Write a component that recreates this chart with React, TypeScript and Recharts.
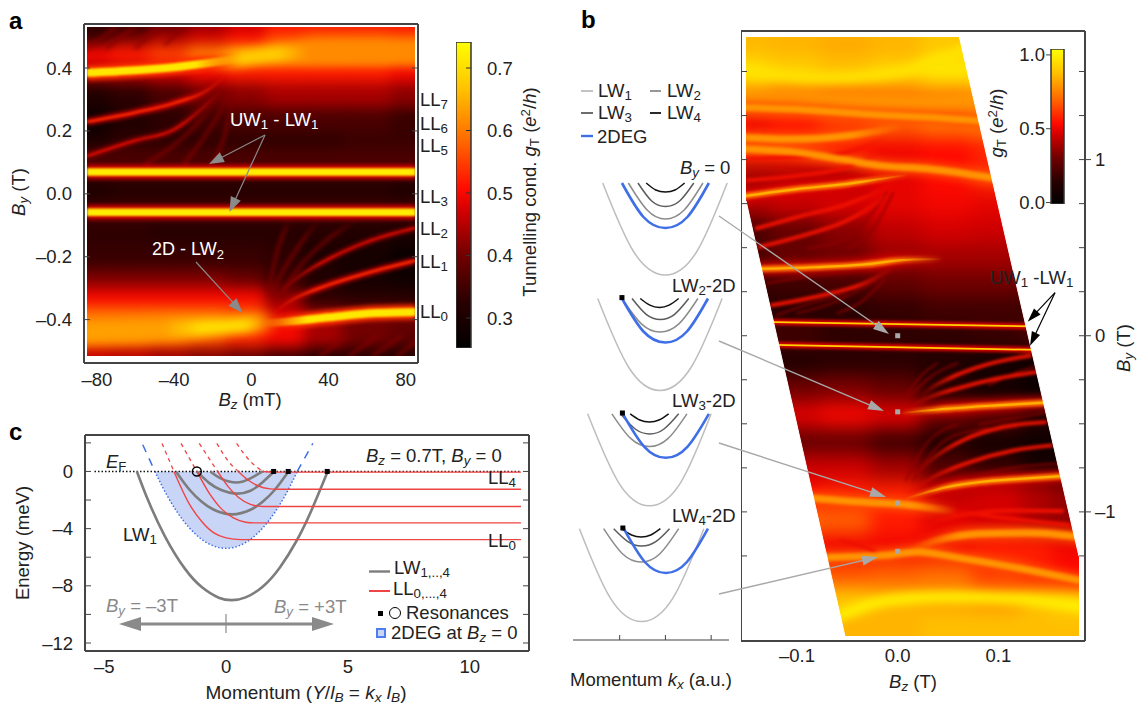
import React from 'react';
import { ComposedChart, XAxis, YAxis, Line, Area, Bar, Scatter } from 'recharts';

const FONT = '"Liberation Sans", Arial, sans-serif';
const INK = '#222';
const FRAME = '#444';

const p = (rows: number[][]) => rows.map(([x, y]) => ({ x, y }));

// ---- panel a: map, Bz in mT, By in T ----
const aCols = [-85, -60, -40, -20, 0, 20, 40, 60, 85];
const aRows = [0.55, 0.47, 0.42, 0.36, 0.3, 0.22, 0.14, 0.09, 0, -0.09, -0.14, -0.22, -0.3, -0.36, -0.42, -0.47, -0.55];
const aGrid = [
  [0.33, 0.33, 0.37, 0.42, 0.46, 0.5, 0.5, 0.5, 0.5],
  [0.34, 0.4, 0.44, 0.47, 0.5, 0.55, 0.57, 0.57, 0.56],
  [0.5, 0.52, 0.55, 0.6, 0.63, 0.63, 0.63, 0.63, 0.61],
  [0.44, 0.45, 0.47, 0.5, 0.52, 0.52, 0.52, 0.52, 0.5],
  [0.31, 0.33, 0.36, 0.4, 0.42, 0.44, 0.44, 0.44, 0.42],
  [0.28, 0.31, 0.33, 0.35, 0.36, 0.36, 0.36, 0.36, 0.34],
  [0.3, 0.33, 0.33, 0.33, 0.33, 0.33, 0.33, 0.34, 0.34],
  [0.36, 0.36, 0.36, 0.36, 0.36, 0.36, 0.36, 0.36, 0.36],
  [0.31, 0.32, 0.32, 0.32, 0.32, 0.32, 0.32, 0.32, 0.31],
  [0.36, 0.36, 0.36, 0.36, 0.36, 0.36, 0.36, 0.36, 0.36],
  [0.33, 0.33, 0.32, 0.32, 0.32, 0.32, 0.32, 0.31, 0.3],
  [0.34, 0.34, 0.34, 0.34, 0.34, 0.33, 0.3, 0.29, 0.27],
  [0.41, 0.41, 0.41, 0.41, 0.39, 0.34, 0.31, 0.29, 0.28],
  [0.5, 0.5, 0.5, 0.5, 0.5, 0.42, 0.33, 0.32, 0.32],
  [0.6, 0.6, 0.6, 0.6, 0.58, 0.48, 0.42, 0.4, 0.4],
  [0.58, 0.58, 0.57, 0.56, 0.53, 0.5, 0.44, 0.4, 0.38],
  [0.46, 0.45, 0.43, 0.41, 0.39, 0.35, 0.32, 0.32, 0.31],
];
const aTop = p([[-85, 0.382], [-60, 0.39], [-40, 0.4], [-20, 0.415], [-5, 0.428]]);
const aTopBlob = p([[-22, 0.414], [-5, 0.428], [10, 0.44], [30, 0.447]]);
const aBroadTop = p([[5, 0.44], [25, 0.447], [50, 0.45], [90, 0.45]]);
const aBandUp = p([[-85, 0.064], [85, 0.064]]);
const aBandDown = p([[-85, -0.065], [85, -0.065]]);
const aBottom = p([[5, -0.422], [20, -0.415], [40, -0.402], [60, -0.39], [85, -0.385]]);
const aBottomBlob = p([[-45, -0.44], [-30, -0.437], [-15, -0.432], [0, -0.425], [15, -0.418]]);
const aBroadBottom = p([[-90, -0.45], [-60, -0.445], [-40, -0.44], [-15, -0.432]]);
const aUpper1 = p([[-85, 0.225], [-60, 0.255], [-40, 0.285], [-20, 0.338], [-12, 0.385]]);
const aUpper2 = p([[-85, 0.115], [-60, 0.165], [-40, 0.2], [-25, 0.27], [-15, 0.33]]);
const aLower1 = p([[10, -0.395], [20, -0.35], [40, -0.298], [60, -0.26], [85, -0.22]]);
const aLower2 = p([[15, -0.32], [25, -0.27], [40, -0.215], [60, -0.16], [85, -0.115]]);
const aFaint = [
  p([[-55, 0.09], [-40, 0.15], [-25, 0.24], [-15, 0.33]]),
  p([[-35, 0.09], [-25, 0.17], [-15, 0.27], [-10, 0.34]]),
  p([[-20, 0.09], [-13, 0.2], [-9, 0.32]]),
  p([[-85, 0.46], [-70, 0.53]]),
  p([[-75, 0.46], [-60, 0.53]]),
  p([[-60, 0.46], [-48, 0.53]]),
  p([[-45, 0.47], [-35, 0.53]]),
  p([[55, -0.09], [40, -0.15], [25, -0.24], [15, -0.33]]),
  p([[35, -0.09], [25, -0.17], [15, -0.27], [10, -0.34]]),
  p([[20, -0.09], [13, -0.2], [9, -0.32]]),
  p([[35, -0.53], [50, -0.46]]),
  p([[50, -0.53], [65, -0.46]]),
  p([[62, -0.53], [78, -0.46]]),
  p([[75, -0.53], [85, -0.48]]),
];
const aXTicks = [-80, -60, -40, -20, 0, 20, 40, 60, 80];
const aXLabels = [-80, -40, 0, 40, 80];
const aYTicks = [-0.4, -0.2, 0, 0.2, 0.4];
const aBarTicks = [0.3, 0.4, 0.5, 0.6, 0.7];

// ---- panel b: map, Bz in T, By in T ----
const bCols = [-0.15, -0.1, -0.05, 0, 0.05, 0.1, 0.15, 0.18];
const bRows = [1.8, 1.65, 1.5, 1.35, 1.2, 1.05, 0.9, 0.75, 0.6, 0.45, 0.3, 0.15, 0, -0.15, -0.3, -0.45, -0.6, -0.75, -0.9, -1.05, -1.2, -1.35, -1.5, -1.65, -1.8];
const bGrid = [
  [0.83, 0.83, 0.83, 0.84, 0.86, 0.88, 0.88, 0.88],
  [0.83, 0.82, 0.8, 0.82, 0.86, 0.9, 0.9, 0.9],
  [0.92, 0.88, 0.85, 0.88, 0.95, 0.95, 0.9, 0.9],
  [0.76, 0.72, 0.7, 0.7, 0.72, 0.76, 0.78, 0.78],
  [0.5, 0.54, 0.6, 0.66, 0.7, 0.72, 0.7, 0.7],
  [0.58, 0.56, 0.54, 0.5, 0.52, 0.56, 0.56, 0.56],
  [0.38, 0.4, 0.4, 0.48, 0.52, 0.58, 0.55, 0.55],
  [0.4, 0.44, 0.46, 0.48, 0.5, 0.48, 0.46, 0.46],
  [0.22, 0.28, 0.34, 0.42, 0.45, 0.44, 0.4, 0.4],
  [0.22, 0.28, 0.3, 0.36, 0.38, 0.38, 0.36, 0.36],
  [0.18, 0.2, 0.22, 0.27, 0.3, 0.3, 0.28, 0.28],
  [0.14, 0.14, 0.15, 0.17, 0.2, 0.2, 0.18, 0.18],
  [0.22, 0.2, 0.16, 0.16, 0.16, 0.18, 0.22, 0.22],
  [0.12, 0.12, 0.15, 0.15, 0.12, 0.08, 0.05, 0.05],
  [0.3, 0.3, 0.32, 0.28, 0.14, 0.08, 0.04, 0.04],
  [0.42, 0.46, 0.5, 0.46, 0.3, 0.26, 0.15, 0.15],
  [0.3, 0.28, 0.28, 0.2, 0.12, 0.08, 0.05, 0.05],
  [0.42, 0.44, 0.44, 0.38, 0.24, 0.18, 0.08, 0.08],
  [0.5, 0.52, 0.56, 0.56, 0.42, 0.45, 0.4, 0.35],
  [0.62, 0.68, 0.66, 0.55, 0.48, 0.45, 0.38, 0.35],
  [0.5, 0.5, 0.5, 0.5, 0.5, 0.55, 0.55, 0.5],
  [0.78, 0.7, 0.64, 0.66, 0.68, 0.6, 0.55, 0.52],
  [0.88, 0.86, 0.86, 0.82, 0.8, 0.78, 0.84, 0.88],
  [0.9, 0.84, 0.82, 0.82, 0.84, 0.84, 0.84, 0.84],
  [0.9, 0.84, 0.82, 0.82, 0.84, 0.84, 0.84, 0.84],
];
const bBandUp = p([[-0.16, 0.085], [0.14, 0.057]]);
const bBandDown = p([[-0.16, -0.043], [0.14, -0.076]]);
const bBrightUp = [
  p([[-0.16, 0.79], [-0.1, 0.837], [-0.05, 0.866], [-0.017, 0.894], [0.012, 0.918]]),
  p([[-0.14, 0.384], [-0.083, 0.393], [-0.034, 0.408], [0.009, 0.435], [0.045, 0.44]]),
];
const bBrightDown = [
  p([[0.002, -0.435], [0.049, -0.41], [0.098, -0.391], [0.15, -0.374]]),
  p([[0.006, -0.925], [0.049, -0.855], [0.082, -0.826], [0.124, -0.807], [0.17, -0.79]]),
];
const bBroad = [
  p([[-0.16, 1.13], [-0.1, 1.121], [-0.05, 1.14], [0.005, 1.19]]),
  p([[-0.16, 1.3], [-0.1, 1.29], [-0.034, 1.263], [0.032, 1.244], [0.09, 1.22]]),
  p([[-0.16, 1.066], [-0.1, 1.045], [-0.057, 1.008], [-0.017, 0.97], [0.032, 0.951], [0.1, 0.895]]),
  p([[-0.09, -0.915], [-0.034, -0.94], [0.006, -0.953], [0.06, -0.995]]),
  p([[0.01, -1.215], [0.039, -1.157], [0.082, -1.119], [0.131, -1.115], [0.185, -1.14]]),
  p([[-0.075, -1.255], [-0.011, -1.242], [0.019, -1.223], [0.065, -1.261], [0.131, -1.327], [0.185, -1.39]]),
];
const bTopYellow = p([[-0.16, 1.51], [-0.067, 1.47], [0.009, 1.51], [0.045, 1.58], [0.07, 1.63]]);
const bTopOrange = p([[-0.16, 1.36], [-0.05, 1.34], [0.03, 1.33], [0.08, 1.35]]);
const bYellow = p([[-0.06, -1.59], [-0.008, -1.497], [0.049, -1.478], [0.115, -1.488], [0.19, -1.54]]);
const bRedUp = [
  p([[-0.141, 0.611], [-0.1, 0.677], [-0.05, 0.752], [-0.017, 0.828], [0.002, 0.885]]),
  p([[-0.138, 0.507], [-0.1, 0.563], [-0.05, 0.658], [-0.017, 0.771], [0.002, 0.866]]),
  p([[-0.126, 0.176], [-0.083, 0.223], [-0.034, 0.299], [-0.004, 0.384]]),
  p([[-0.15, 1.008], [-0.1, 1.017], [-0.05, 1.045], [-0.008, 1.14]]),
  p([[-0.15, 0.885], [-0.1, 0.913], [-0.05, 0.96], [-0.011, 1.064]]),
  p([[-0.057, -1.157], [-0.024, -1.214], [-0.011, -1.252]]),
];
const bRedDown = [
  p([[0.014, -0.391], [0.032, -0.344], [0.058, -0.297], [0.098, -0.24], [0.139, -0.202]]),
  p([[0.022, -0.344], [0.035, -0.287], [0.058, -0.221], [0.091, -0.155], [0.133, -0.108]]),
  p([[0.014, -0.873], [0.039, -0.788], [0.072, -0.713], [0.115, -0.647], [0.154, -0.618]]),
  p([[0.019, -0.779], [0.035, -0.694], [0.065, -0.589], [0.105, -0.514], [0.148, -0.486]]),
  p([[0.049, -0.987], [0.098, -1.025], [0.171, -1.072]]),
  p([[0.016, -1.138], [0.032, -1.072], [0.072, -1.006], [0.115, -0.987], [0.165, -0.99]]),
];
const bFaint = [
  p([[-0.1, 0.13], [-0.06, 0.2], [-0.02, 0.32]]),
  p([[-0.06, 0.13], [-0.035, 0.2], [-0.012, 0.33]]),
  p([[-0.09, 0.5], [-0.05, 0.56], [-0.01, 0.82]]),
  p([[-0.05, 0.5], [-0.025, 0.6], [-0.004, 0.82]]),
  p([[-0.12, 0.12], [-0.09, 0.18], [-0.05, 0.24]]),
  p([[-0.13, 0.3], [-0.09, 0.34], [-0.05, 0.37]]),
  p([[0.06, -0.15], [0.035, -0.22], [0.012, -0.34]]),
  p([[0.04, -0.15], [0.024, -0.22], [0.008, -0.34]]),
  p([[0.09, -0.52], [0.05, -0.58], [0.015, -0.82]]),
  p([[0.06, -0.5], [0.03, -0.6], [0.008, -0.82]]),
  p([[0.15, -0.15], [0.12, -0.2], [0.09, -0.28]]),
  p([[0.16, -0.42], [0.12, -0.46], [0.08, -0.5]]),
  p([[0.16, -0.72], [0.12, -0.74], [0.07, -0.8]]),
];
const bLeftEdge = [
  { x: -0.15, left: [-1.7, 0.77] },
  { x: -0.052, left: [-1.7, -1.7] },
];
const bRightEdge = [
  { x: 0.0615, right: [1.7, 1.7] },
  { x: 0.18, right: [-1.248, 1.7] },
];
const bMarkers = p([[0, 0], [0, -0.432], [0, -0.95], [0, -1.224]]);
const bXTicks = [-0.15, -0.1, -0.05, 0, 0.05, 0.1, 0.15];
const bXLabels = [-0.1, 0, 0.1];
const bYTicks = [-1.25, -1, -0.75, -0.5, -0.25, 0, 0.25, 0.5, 0.75, 1, 1.25, 1.5];
const bYLabels = [-1, 0, 1];
const bBarTicks = [0, 0.5, 1];

// ---- panel b: band sketches, momentum against energy (sketch units) ----
const s1Lw1 = p([[-1.37, 183], [-0.69, 252], [0, 275], [0.68, 252], [1.35, 183]]);
const s1Lw2 = p([[-0.81, 183], [-0.4, 210], [0, 219], [0.41, 210], [0.82, 183]]);
const s1Lw3 = p([[-0.6, 183], [-0.3, 201], [0, 206.5], [0.31, 201], [0.62, 183]]);
const s1Lw4 = p([[-0.42, 183], [-0.21, 190], [0, 192], [0.21, 190], [0.42, 183]]);
const s1Deg = p([[-0.95, 183], [-0.48, 217], [0, 228], [0.48, 217], [0.95, 183]]);
const s2Lw1 = p([[-1.48, 298.5], [-0.8, 367.5], [-0.12, 390.5], [0.56, 367.5], [1.24, 298.5]]);
const s2Lw2 = p([[-0.95, 298.5], [-0.53, 323.6], [-0.12, 332], [0.3, 323.6], [0.71, 298.5]]);
const s2Lw3 = p([[-0.73, 298.5], [-0.42, 314.3], [-0.11, 319.6], [0.2, 314.3], [0.51, 298.5]]);
const s2Lw4 = p([[-0.55, 298.5], [-0.34, 305.2], [-0.13, 307.5], [0.08, 305.2], [0.29, 298.5]]);
const s2Deg = p([[-0.95, 298.5], [-0.48, 331.5], [0, 342.5], [0.47, 331.5], [0.93, 298.5]]);
const s3Lw1 = p([[-1.7, 413.8], [-1.02, 482.8], [-0.35, 505.8], [0.33, 482.8], [1, 413.8]]);
const s3Lw2 = p([[-1.17, 413.8], [-0.76, 438.4], [-0.35, 446.6], [0.06, 438.4], [0.47, 413.8]]);
const s3Lw3 = p([[-0.98, 413.8], [-0.66, 429], [-0.34, 434], [-0.03, 429], [0.29, 413.8]]);
const s3Lw4 = p([[-0.77, 413.8], [-0.56, 420], [-0.35, 422], [-0.14, 420], [0.07, 413.8]]);
const s3Deg = p([[-0.93, 413.8], [-0.46, 446.8], [0.01, 457.8], [0.48, 446.8], [0.95, 413.8]]);
const s4Lw1 = p([[-1.88, 528.7], [-1.2, 598.4], [-0.52, 621.6], [0.16, 598.4], [0.84, 528.7]]);
const s4Lw2 = p([[-1.35, 528.7], [-0.94, 553.7], [-0.53, 562], [-0.12, 553.7], [0.29, 528.7]]);
const s4Lw3 = p([[-1.13, 528.7], [-0.82, 541.6], [-0.52, 546], [-0.21, 541.6], [0.09, 528.7]]);
const s4Lw4 = p([[-0.96, 528.7], [-0.74, 535], [-0.53, 537], [-0.32, 535], [-0.11, 528.7]]);
const s4Deg = p([[-0.91, 528.7], [-0.45, 562], [0.01, 573], [0.47, 562], [0.93, 528.7]]);
const sMarkers = p([[-0.95, 297.6], [-0.94, 413], [-0.93, 528]]);
const sTicks = [-1, 0, 1];

// ---- panel c: momentum, energy in meV ----
const cLw1 = p([[-3.66, 0], [-3.2, -2.02], [-2.5, -4.57], [-1.7, -6.78], [-1, -8.09], [-0.3, -8.83], [0.24, -9], [0.8, -8.81], [1.5, -8.06], [2.2, -6.73], [2.9, -4.83], [3.5, -2.73], [4.17, 0]]);
const cLw2 = p([[-2.06, 0], [-1.5, -1.28], [-1, -2.12], [-0.5, -2.68], [0.25, -3], [1, -2.68], [1.5, -2.12], [2, -1.28], [2.56, 0]]);
const cLw3 = p([[-1.2, 0], [-0.7, -0.8], [-0.2, -1.3], [0.4, -1.55], [1, -1.35], [1.5, -0.75], [1.97, 0]]);
const cLw4 = p([[-0.65, 0], [-0.2, -0.5], [0.43, -0.77], [1, -0.48], [1.5, 0]]);
const cLl0 = p([[-2.14, 0], [-1.5, -2.3], [-1, -3.5], [-0.5, -4.3], [0, -4.65], [0.6, -4.77], [12.1, -4.77]]);
const cLl1 = p([[-1.2, 0], [-0.7, -1.5], [-0.2, -2.6], [0.3, -3.25], [0.8, -3.55], [1.15, -3.6], [12.1, -3.6]]);
const cLl2 = p([[-0.35, 0], [0.1, -1.1], [0.5, -1.8], [1, -2.3], [1.5, -2.45], [12.1, -2.45]]);
const cLl3 = p([[0.5, 0], [0.9, -0.6], [1.3, -1], [1.8, -1.22], [2.1, -1.25], [12.1, -1.25]]);
const cLl4 = p([[1.5, 0], [2, -0.05], [12.1, -0.05]]);
const cDash0 = p([[-2.63, 1.96], [-2.14, 0]]);
const cDash1 = p([[-1.85, 1.96], [-1.2, 0]]);
const cDash2 = p([[-1.1, 1.96], [-0.35, 0]]);
const cDash3 = p([[-0.38, 1.96], [0.1, 0.7], [0.5, 0]]);
const cDash4 = p([[0.43, 1.96], [1, 0.7], [1.5, 0]]);
const cDeg = p([[-2.92, 0], [-2.5, -1.44], [-2, -2.86], [-1.5, -3.96], [-1, -4.75], [-0.5, -5.22], [0, -5.38], [0.5, -5.22], [1, -4.75], [1.5, -3.96], [2, -2.86], [2.5, -1.44], [2.92, 0]]);
const cDegLeft = p([[-3.42, 1.87], [-2.92, 0]]);
const cDegRight = p([[2.92, 0], [3.56, 1.96]]);
const cFermi = p([[-5.4, 0], [12.1, 0]]);
const cSquares = p([[1.95, 0], [2.55, 0], [4.15, 0]]);
const cCircle = p([[-1.2, 0]]);
const cXTicks = [-5, 0, 5, 10];
const cYTicks = [-12, -10, -8, -6, -4, -2, 0, 2];
const cYLabels = [-12, -8, -4, 0];

// ---- annotations, in page pixels ----
const noteUw1 = p([[265, 135], [209, 164]]);
const noteUw2 = p([[265, 135], [229.5, 212]]);
const note2d = p([[196, 262], [242.6, 313]]);
const noteB1 = p([[719, 216], [889, 334]]);
const noteB2 = p([[719, 341], [884, 411]]);
const noteB3 = p([[719, 443], [886, 497]]);
const noteB4 = p([[719, 594], [878, 557]]);
const noteLwA = p([[1055, 292.7], [1027.7, 321.7]]);
const noteLwB = p([[1055, 292.7], [1030, 345.7]]);
const noteByLeft = p([[226, 624], [119, 624]]);
const noteByRight = p([[226, 624], [334, 624]]);
const noteByTick = p([[226, 614], [226, 633]]);
const keyLw = p([[369, 571.5], [390, 571.5]]);
const keyLl = p([[369, 591], [390, 591]]);
const keyS1 = p([[581, 91], [593, 91]]);
const keyS2 = p([[650, 91], [661, 91]]);
const keyS3 = p([[581, 113], [593, 113]]);
const keyS4 = p([[650, 113], [661, 113]]);
const keyS5 = p([[581, 136], [593, 136]]);

const CMAP: [number, number[]][] = [
  [0, [0, 0, 0]],
  [0.15, [42, 0, 0]],
  [0.3, [112, 0, 0]],
  [0.45, [212, 0, 0]],
  [0.52, [255, 10, 0]],
  [0.68, [255, 106, 0]],
  [0.85, [255, 196, 0]],
  [1, [255, 255, 0]],
];
const heat = (t: number) => {
  const v = Math.max(0, Math.min(1, t));
  for (let i = 1; i < CMAP.length; i++) {
    if (v <= CMAP[i][0]) {
      const f = (v - CMAP[i - 1][0]) / (CMAP[i][0] - CMAP[i - 1][0]);
      const c = CMAP[i - 1][1].map((a, k) => Math.round(a + (CMAP[i][1][k] - a) * f));
      return `rgb(${c.join(',')})`;
    }
  }
  return 'rgb(255,255,0)';
};
const aHeat = (g: number) => (g - 0.252) / (0.7416 - 0.252);
const aBox = { x: 86.5, y: 27, w: 328.5, h: 329 };
const aXd: [number, number] = [-85, 85];
const aYd: [number, number] = [-0.526, 0.529];
const bBox = { x: 746, y: 37, w: 333, h: 599 };
const bXd: [number, number] = [-0.15, 0.18];
const bYd: [number, number] = [-1.7, 1.7];

const cellsOf = (cols: number[], rows: number[], grid: number[][]) =>
  rows.flatMap((y, r) => cols.map((x, c) => ({ x, y, g: grid[r][c] })));

const Sub = ({ children }: any) => (
  <span style={{ fontSize: '0.72em', verticalAlign: '-0.28em', lineHeight: 0 }}>{children}</span>
);
const Sup = ({ children }: any) => (
  <span style={{ fontSize: '0.72em', verticalAlign: '0.42em', lineHeight: 0 }}>{children}</span>
);

const Note = ({ x, y, size = 18.5, color = INK, weight, rotate, center, children }: any) => (
  <div
    style={{
      position: 'absolute',
      left: x,
      top: y,
      fontFamily: FONT,
      fontSize: size,
      color,
      fontWeight: weight,
      whiteSpace: 'nowrap',
      lineHeight: 1,
      transform: `translate(${center || rotate ? '-50%' : '0'},-50%)${rotate ? ` rotate(${rotate}deg)` : ''}`,
    }}
  >
    {children}
  </div>
);

// one blurred layer of a map, cut to the map box
const HeatLayer = ({ box, xd, yd, blur, children }: any) => {
  const pad = 30;
  const ux = (xd[1] - xd[0]) / box.w;
  const uy = (yd[1] - yd[0]) / box.h;
  return (
    <div style={{ position: 'absolute', left: box.x, top: box.y, width: box.w, height: box.h, overflow: 'hidden' }}>
      <div style={{ position: 'absolute', left: -pad, top: -pad, filter: `blur(${blur}px)` }}>
        <ComposedChart width={box.w + 2 * pad} height={box.h + 2 * pad} margin={{ top: 0, right: 0, bottom: 0, left: 0 }}>
          <XAxis hide type="number" dataKey="x" allowDataOverflow domain={[xd[0] - pad * ux, xd[1] + pad * ux]} />
          <YAxis hide type="number" dataKey="y" allowDataOverflow domain={[yd[0] - pad * uy, yd[1] + pad * uy]} />
          {children}
        </ComposedChart>
      </div>
    </div>
  );
};

// fade: which ends of the ridge die away, 'l', 'r' or 'lr'
const ridge = (data: any[], width: number, color: string, key: string, fade = '') => {
  const id = 'fade-' + key;
  const line = (
    <Line
      key={key}
      data={data}
      dataKey="y"
      type="monotone"
      stroke={fade ? `url(#${id})` : color}
      strokeWidth={width}
      dot={false}
      legendType="none"
      isAnimationActive={false}
    />
  );
  if (!fade) return line;
  return [
    <defs key={id}>
      <linearGradient id={id} x1="0" y1="0" x2="1" y2="0">
        <stop offset={0} stopColor={color} stopOpacity={fade.includes('l') ? 0 : 1} />
        <stop offset={0.3} stopColor={color} stopOpacity={1} />
        <stop offset={0.7} stopColor={color} stopOpacity={1} />
        <stop offset={1} stopColor={color} stopOpacity={fade.includes('r') ? 0 : 1} />
      </linearGradient>
    </defs>,
    line,
  ];
};

const heatCells = (data: any[], w: number, h: number, tone: (g: number) => number) => (
  <Scatter
    data={data}
    dataKey="y"
    isAnimationActive={false}
    shape={(s: any) => <rect x={s.cx - w / 2} y={s.cy - h / 2} width={w} height={h} fill={heat(tone(s.payload.g))} />}
  />
);

const blank = () => '';
const dashNum = (v: number, digits: number) => (v < 0 ? '–' : '') + Math.abs(v).toFixed(digits);
const tickStyle = { fill: INK, fontSize: 18.5, fontFamily: FONT };

// frame lines and inward ticks on all four sides; these axes carry no labels
const frameAxes = (xd: number[], yd: number[], xt: number[], yt: number[]) => [
  <XAxis key="fb" xAxisId="fb" mirror type="number" orientation="bottom" domain={xd} allowDataOverflow ticks={xt} interval={0} tickFormatter={blank} tickSize={6} stroke={FRAME} axisLine={{ stroke: FRAME, strokeWidth: 2 }} />,
  <XAxis key="ft" xAxisId="ft" mirror type="number" orientation="top" domain={xd} allowDataOverflow ticks={xt} interval={0} tickFormatter={blank} tickSize={6} stroke={FRAME} axisLine={{ stroke: FRAME, strokeWidth: 2 }} />,
  <YAxis key="fl" yAxisId="fl" mirror type="number" orientation="left" domain={yd} allowDataOverflow ticks={yt} interval={0} tickFormatter={blank} tickSize={6} stroke={FRAME} axisLine={{ stroke: FRAME, strokeWidth: 2 }} />,
  <YAxis key="fr" yAxisId="fr" mirror type="number" orientation="right" domain={yd} allowDataOverflow ticks={yt} interval={0} tickFormatter={blank} tickSize={6} stroke={FRAME} axisLine={{ stroke: FRAME, strokeWidth: 2 }} />,
];

const gradientStops = CMAP.map(([t, c]) => <stop key={t} offset={t} stopColor={`rgb(${c.join(',')})`} />);

// shaft drawn as a line that stops at the head, head drawn as one scatter point
const arrow = (data: any[], key: string, color: string, width: number, headLen = 0, headWid = 0) => {
  const a = data[0];
  const b = data[data.length - 1];
  const len = Math.hypot(b.x - a.x, b.y - a.y) || 1;
  const ux = (b.x - a.x) / len;
  const uy = (b.y - a.y) / len;
  const shaft = headLen > 0 ? [a, { x: b.x - ux * (headLen - 2), y: b.y - uy * (headLen - 2) }] : data;
  const line = (
    <Line
      key={key}
      data={shaft}
      dataKey="y"
      type="linear"
      stroke={color}
      strokeWidth={width}
      dot={false}
      legendType="none"
      isAnimationActive={false}
    />
  );
  if (headLen <= 0) return line;
  return [
    line,
    <Scatter
      key={key + 'h'}
      data={[b]}
      dataKey="y"
      isAnimationActive={false}
      shape={(d: any) => (
        <polygon
          fill={color}
          points={`${d.cx},${d.cy} ${d.cx - ux * headLen - uy * headWid},${d.cy - uy * headLen + ux * headWid} ${d.cx - ux * headLen + uy * headWid},${d.cy - uy * headLen - ux * headWid}`}
        />
      )}
    />,
  ];
};

const curve = (data: any[], key: string, color: string, width: number, dash?: string) => (
  <Line
    key={key}
    data={data}
    dataKey="y"
    type="natural"
    stroke={color}
    strokeWidth={width}
    strokeDasharray={dash}
    dot={false}
    legendType="none"
    isAnimationActive={false}
  />
);
const flat = (data: any[], key: string, color: string, width: number, dash?: string) => (
  <Line
    key={key}
    data={data}
    dataKey="y"
    type="monotone"
    stroke={color}
    strokeWidth={width}
    strokeDasharray={dash}
    dot={false}
    legendType="none"
    isAnimationActive={false}
  />
);

const LW_COLORS = ['#bdbdbd', '#8c8c8c', '#5c5c5c', '#111111'];
const DEG_BLUE = '#3f6fe6';
const LL_RED = '#ef4444';
const LW_GRAY = '#7d7d7d';
const ARROW_GRAY = '#8a8a8a';
const PALE_GRAY = '#a8a8a8';

const sketches = [
  [s1Lw1, s1Lw2, s1Lw3, s1Lw4, s1Deg],
  [s2Lw1, s2Lw2, s2Lw3, s2Lw4, s2Deg],
  [s3Lw1, s3Lw2, s3Lw3, s3Lw4, s3Deg],
  [s4Lw1, s4Lw2, s4Lw3, s4Lw4, s4Deg],
];

export default function App() {
  const aCellData = cellsOf(aCols, aRows, aGrid);
  const bCellData = cellsOf(bCols, bRows, bGrid);
  return (
    <div style={{ position: 'absolute', left: 0, top: 0, width: 1137, height: 705, background: '#fff', overflow: 'hidden' }}>
      {/* panel a map */}
      <HeatLayer box={aBox} xd={aXd} yd={aYd} blur={7}>
        {heatCells(aCellData, 50, 32, aHeat)}
      </HeatLayer>
      <HeatLayer box={aBox} xd={aXd} yd={aYd} blur={5}>
        {ridge(aBroadTop, 24, '#ff8a00', 'bt', 'l')}
        {ridge(aBroadBottom, 24, '#ffa000', 'bb', 'r')}
        {ridge(aTopBlob, 15, '#ffd000', 'tb', 'lr')}
        {ridge(aBottomBlob, 17, '#ffe000', 'btb', 'lr')}
      </HeatLayer>
      <HeatLayer box={aBox} xd={aXd} yd={aYd} blur={2}>
        {aFaint.map((d, i) => ridge(d, 2.5, '#8a0000', 'f' + i, i < 3 ? 'r' : i >= 7 && i < 10 ? 'r' : ''))}
        {ridge(aUpper1, 6, '#d80000', 'u1', 'r')}
        {ridge(aUpper2, 4.5, '#b00000', 'u2', 'r')}
        {ridge(aLower1, 6, '#d80000', 'l1', 'l')}
        {ridge(aLower2, 4.5, '#b00000', 'l2', 'l')}
        {ridge(aTop, 15, '#ff3000', 't', 'r')}
        {ridge(aBottom, 15, '#ff3000', 'b', 'l')}
        {ridge(aBandUp, 14, '#e00000', 'bu')}
        {ridge(aBandDown, 14, '#e00000', 'bd')}
      </HeatLayer>
      <HeatLayer box={aBox} xd={aXd} yd={aYd} blur={1.2}>
        {ridge(aUpper1, 2, '#ff3000', 'u1c', 'r')}
        {ridge(aLower1, 2, '#ff3000', 'l1c', 'l')}
        {ridge(aUpper2, 1.5, '#f01000', 'u2c', 'r')}
        {ridge(aLower2, 1.5, '#f01000', 'l2c', 'l')}
        {ridge(aTop, 8, '#ffe800', 'tc', 'r')}
        {ridge(aBottom, 8, '#ffe800', 'bc', 'l')}
        {ridge(aBandUp, 7.5, '#ffee00', 'buc')}
        {ridge(aBandDown, 7.5, '#ffee00', 'bdc')}
      </HeatLayer>

      {/* panel a axes */}
      <div style={{ position: 'absolute', left: 0, top: 21 }}>
        <ComposedChart width={421} height={375} margin={{ top: 3, right: 3, bottom: 0, left: 0 }}>
          <XAxis type="number" dataKey="x" domain={[-86.7, 86.3]} allowDataOverflow ticks={aXLabels} interval={0} height={33} tickLine={false} axisLine={false} tick={tickStyle} tickFormatter={(v) => dashNum(v, 0)} tickMargin={4} />
          <YAxis type="number" dataKey="y" domain={[-0.538, 0.54]} allowDataOverflow ticks={aYTicks} interval={0} width={84} tickLine={false} axisLine={false} tick={tickStyle} tickFormatter={(v) => dashNum(v, 1)} tickMargin={6} />
          {frameAxes([-86.7, 86.3], [-0.538, 0.54], aXTicks, aYTicks)}
        </ComposedChart>
      </div>

      {/* panel a colour bar */}
      <div style={{ position: 'absolute', left: 456, top: 39 }}>
        <ComposedChart width={60} height={312} data={[{ name: 'g', range: [0.252, 0.7416] }]} margin={{ top: 3, right: 0, bottom: 3, left: 0 }} barCategoryGap={0}>
          <defs>
            <linearGradient id="barA" x1="0" y1="1" x2="0" y2="0">{gradientStops}</linearGradient>
          </defs>
          <XAxis hide dataKey="name" />
          <YAxis orientation="right" type="number" domain={[0.252, 0.7416]} allowDataOverflow ticks={aBarTicks} interval={0} width={45} tickLine={false} axisLine={false} tick={tickStyle} tickFormatter={(v) => v.toFixed(1)} tickMargin={10} />
          <YAxis yAxisId="in" mirror orientation="right" type="number" domain={[0.252, 0.7416]} allowDataOverflow ticks={aBarTicks} interval={0} tickSize={5} tickFormatter={blank} stroke="#333" axisLine={false} />
          <Bar dataKey="range" fill="url(#barA)" stroke="#333" strokeWidth={1.5} isAnimationActive={false} legendType="none" />
        </ComposedChart>
      </div>

      {/* panel b map */}
      <HeatLayer box={bBox} xd={bXd} yd={bYd} blur={9}>
        {heatCells(bCellData, 54, 28, (g) => g)}
      </HeatLayer>
      <HeatLayer box={bBox} xd={bXd} yd={bYd} blur={4}>
        {ridge(bTopYellow, 11, '#ffe400', 'ty')}
        {ridge(bTopOrange, 13, '#ff9600', 'to')}
        {ridge(bYellow, 11, '#fff000', 'y')}
        {bBroad.map((d, i) => ridge(d, 13, '#ff5000', 'bg' + i, i === 3 ? 'r' : i === 4 ? 'l' : i === 0 ? 'r' : ''))}
        {bBrightUp.map((d, i) => ridge(d, 11, '#e80000', 'brgu' + i, 'r'))}
        {bBrightDown.map((d, i) => ridge(d, 11, '#e80000', 'brgd' + i, 'l'))}
      </HeatLayer>
      <HeatLayer box={bBox} xd={bXd} yd={bYd} blur={1.8}>
        {bFaint.map((d, i) => ridge(d, 1.6, '#900000', 'ff' + i))}
        {bRedUp.map((d, i) => ridge(d, 4, '#f01000', 'ru' + i, 'r'))}
        {bRedDown.map((d, i) => ridge(d, 4, '#f01000', 'rd' + i, 'l'))}
        {bBroad.map((d, i) => ridge(d, 7, '#ff9400', 'bb' + i, i === 3 ? 'r' : i === 4 ? 'l' : i === 0 ? 'r' : ''))}
        {bBrightUp.map((d, i) => ridge(d, 6, '#ff8000', 'bru' + i, 'r'))}
        {bBrightDown.map((d, i) => ridge(d, 6, '#ff8000', 'brd' + i, 'l'))}
        {ridge(bBandUp, 6, '#e00000', 'up')}
        {ridge(bBandDown, 6, '#e00000', 'dn')}
      </HeatLayer>
      <HeatLayer box={bBox} xd={bXd} yd={bYd} blur={0.5}>
        {bBrightUp.map((d, i) => ridge(d, 2.2, '#ffb000', 'bruc' + i, 'r'))}
        {bBrightDown.map((d, i) => ridge(d, 2.2, '#ffb000', 'brdc' + i, 'l'))}
        {ridge(bBandUp, 1.8, '#ffd000', 'upc')}
        {ridge(bBandDown, 1.8, '#ffd000', 'dnc')}
      </HeatLayer>
      <div style={{ position: 'absolute', left: bBox.x, top: bBox.y }}>
        <ComposedChart width={bBox.w} height={bBox.h} margin={{ top: 0, right: 0, bottom: 0, left: 0 }}>
          <XAxis hide type="number" dataKey="x" domain={bXd} allowDataOverflow />
          <YAxis hide type="number" domain={bYd} allowDataOverflow />
          <Area data={bLeftEdge} dataKey="left" type="linear" fill="#fff" fillOpacity={1} stroke="#fff" isAnimationActive={false} legendType="none" />
          <Area data={bRightEdge} dataKey="right" type="linear" fill="#fff" fillOpacity={1} stroke="#fff" isAnimationActive={false} legendType="none" />
        </ComposedChart>
      </div>

      {/* panel b axes */}
      <div style={{ position: 'absolute', left: 741, top: 28 }}>
        <ComposedChart width={396} height={656} margin={{ top: 3, right: 0, bottom: 0, left: 0 }}>
          <XAxis type="number" dataKey="x" domain={[-0.1556, 0.186]} allowDataOverflow ticks={bXLabels} interval={0} height={43} tickLine={false} axisLine={false} tick={tickStyle} tickFormatter={(v) => dashNum(v, 1)} tickMargin={2} />
          <YAxis orientation="right" type="number" dataKey="y" domain={[-1.733, 1.73]} allowDataOverflow ticks={bYLabels} interval={0} width={52} tickSize={6} stroke={FRAME} axisLine={false} tick={tickStyle} tickFormatter={(v) => dashNum(v, 0)} tickMargin={4} />
          {frameAxes([-0.1556, 0.186], [-1.733, 1.73], bXTicks, bYTicks)}
          <Scatter
            data={bMarkers}
            dataKey="y"
            isAnimationActive={false}
            shape={(s: any) => <rect x={s.cx - 2.5} y={s.cy - 2.5} width={5} height={5} fill={PALE_GRAY} />}
          />
        </ComposedChart>
      </div>

      {/* panel b colour bar */}
      <div style={{ position: 'absolute', left: 1010, top: 40 }}>
        <ComposedChart width={55} height={176} data={[{ name: 'g', range: [-0.01, 1.04] }]} margin={{ top: 9, right: 1, bottom: 12, left: 0 }} barCategoryGap={0}>
          <defs>
            <linearGradient id="barB" x1="0" y1="1" x2="0" y2="0">{gradientStops}</linearGradient>
          </defs>
          <XAxis hide dataKey="name" />
          <YAxis type="number" domain={[-0.01, 1.04]} allowDataOverflow ticks={bBarTicks} interval={0} width={41} tickSize={5} stroke={FRAME} axisLine={false} tick={tickStyle} tickFormatter={(v) => v.toFixed(1)} tickMargin={1} />
          <Bar dataKey="range" fill="url(#barB)" stroke="#333" strokeWidth={1.5} isAnimationActive={false} legendType="none" />
        </ComposedChart>
      </div>

      {/* panel b band sketches */}
      <div style={{ position: 'absolute', left: 573, top: 170 }}>
        <ComposedChart width={156} height={490} margin={{ top: 0, right: 0, bottom: 20, left: 0 }}>
          <XAxis mirror type="number" dataKey="x" orientation="bottom" domain={[-2.02, 1.39]} allowDataOverflow ticks={sTicks} interval={0} tickFormatter={blank} tickSize={5} stroke="#444" axisLine={{ stroke: '#444', strokeWidth: 1.2 }} />
          <YAxis hide type="number" dataKey="y" domain={[170, 640]} allowDataOverflow reversed />
          {sketches.flatMap((set, i) =>
            set.map((d, k) =>
              k < 4 ? curve(d, `s${i}${k}`, LW_COLORS[k], 1.5) : curve(d, `s${i}d`, DEG_BLUE, 2.6)
            )
          )}
          <Scatter
            data={sMarkers}
            dataKey="y"
            isAnimationActive={false}
            shape={(s: any) => <rect x={s.cx - 2.5} y={s.cy - 2.5} width={5} height={5} fill="#000" />}
          />
        </ComposedChart>
      </div>

      {/* panel c */}
      <div style={{ position: 'absolute', left: 0, top: 432 }}>
        <ComposedChart width={532} height={252} margin={{ top: 3, right: 3, bottom: 0, left: 0 }}>
          <XAxis type="number" dataKey="x" domain={[-5.79, 12.43]} allowDataOverflow ticks={cXTicks} interval={0} height={33} tickLine={false} axisLine={false} tick={tickStyle} tickFormatter={(v) => dashNum(v, 0)} tickMargin={3} />
          <YAxis type="number" dataKey="y" domain={[-12.56, 2.55]} allowDataOverflow ticks={cYLabels} interval={0} width={85} tickLine={false} axisLine={false} tick={tickStyle} tickFormatter={(v) => dashNum(v, 0)} tickMargin={6} />
          {frameAxes([-5.79, 12.43], [-12.56, 2.55], cXTicks, cYTicks)}
          <Area data={cDeg} dataKey="y" type="natural" baseValue={0} fill="#c9d5f6" fillOpacity={1} stroke={DEG_BLUE} strokeWidth={1.5} strokeDasharray="1.5 2" isAnimationActive={false} legendType="none" />
          {flat(cDegLeft, 'dl', DEG_BLUE, 1.5, '8 7')}
          {flat(cDegRight, 'dr', DEG_BLUE, 1.5, '8 7')}
          {flat(cFermi, 'ef', '#111', 1.5, '1.5 2')}
          {[cDash0, cDash1, cDash2, cDash3, cDash4].map((d, i) => flat(d, 'cd' + i, LL_RED, 1.3, '4 4'))}
          {curve(cLw1, 'w1', LW_GRAY, 2.6)}
          {curve(cLw2, 'w2', LW_GRAY, 2.6)}
          {curve(cLw3, 'w3', LW_GRAY, 2.6)}
          {curve(cLw4, 'w4', LW_GRAY, 2.6)}
          {[cLl0, cLl1, cLl2, cLl3, cLl4].map((d, i) => flat(d, 'cl' + i, LL_RED, 1.4))}
          <Scatter
            data={cSquares}
            dataKey="y"
            isAnimationActive={false}
            shape={(s: any) => <rect x={s.cx - 2.5} y={s.cy - 2.5} width={5} height={5} fill="#000" />}
          />
          <Scatter
            data={cCircle}
            dataKey="y"
            isAnimationActive={false}
            shape={(s: any) => <circle cx={s.cx} cy={s.cy} r={4.5} fill="none" stroke="#000" strokeWidth={1.4} />}
          />
        </ComposedChart>
      </div>

      {/* arrows and key lines, in page pixels */}
      <div style={{ position: 'absolute', left: 0, top: 0 }}>
        <ComposedChart width={1137} height={705} margin={{ top: 0, right: 0, bottom: 0, left: 0 }}>
          <XAxis hide type="number" dataKey="x" domain={[0, 1137]} allowDataOverflow />
          <YAxis hide type="number" dataKey="y" domain={[0, 705]} allowDataOverflow reversed />
          {arrow(noteUw1, 'n1', ARROW_GRAY, 1.2, 15, 5.5)}
          {arrow(noteUw2, 'n2', ARROW_GRAY, 1.2, 15, 5.5)}
          {arrow(note2d, 'n3', ARROW_GRAY, 1.2, 15, 5.5)}
          {arrow(noteB1, 'n4', PALE_GRAY, 1.4, 16, 5)}
          {arrow(noteB2, 'n5', PALE_GRAY, 1.4, 16, 5)}
          {arrow(noteB3, 'n6', PALE_GRAY, 1.4, 16, 5)}
          {arrow(noteB4, 'n7', PALE_GRAY, 1.4, 16, 5)}
          {arrow(noteLwA, 'n8', '#000', 1.2, 14, 4.5)}
          {arrow(noteLwB, 'n9', '#000', 1.2, 14, 4.5)}
          {arrow(noteByLeft, 'n10', ARROW_GRAY, 3, 22, 7)}
          {arrow(noteByRight, 'n11', ARROW_GRAY, 3, 22, 7)}
          {arrow(noteByTick, 'n12', ARROW_GRAY, 1.2)}
          {arrow(keyLw, 'k1', LW_GRAY, 2.4)}
          {arrow(keyLl, 'k2', LL_RED, 2)}
          {arrow(keyS1, 'k3', LW_COLORS[0], 1.8)}
          {arrow(keyS2, 'k4', LW_COLORS[1], 1.8)}
          {arrow(keyS3, 'k5', LW_COLORS[2], 1.8)}
          {arrow(keyS4, 'k6', LW_COLORS[3], 1.8)}
          {arrow(keyS5, 'k7', DEG_BLUE, 2.4)}
        </ComposedChart>
      </div>

      {/* text */}
      <Note x={9} y={21} size={24} weight="bold" color="#000">a</Note>
      <Note x={581} y={20} size={24} weight="bold" color="#000">b</Note>
      <Note x={9} y={432} size={24} weight="bold" color="#000">c</Note>

      <Note x={19} y={192} rotate={-90}><i>B</i><Sub><i>y</i></Sub> (T)</Note>
      <Note x={250} y={400} center><i>B</i><Sub><i>z</i></Sub> (mT)</Note>
      <Note x={530} y={192} rotate={-90}>Tunnelling cond. <i>g</i><Sub>T</Sub> (<i>e</i><Sup>2</Sup>/<i>h</i>)</Note>
      <Note x={230} y={120} color="#fff">UW<Sub>1</Sub> - LW<Sub>1</Sub></Note>
      <Note x={152} y={249} size={18} color="#fff">2D - LW<Sub>2</Sub></Note>
      <Note x={420} y={100}>LL<Sub>7</Sub></Note>
      <Note x={420} y={124}>LL<Sub>6</Sub></Note>
      <Note x={420} y={146}>LL<Sub>5</Sub></Note>
      <Note x={420} y={197}>LL<Sub>3</Sub></Note>
      <Note x={420} y={229}>LL<Sub>2</Sub></Note>
      <Note x={420} y={262}>LL<Sub>1</Sub></Note>
      <Note x={420} y={312}>LL<Sub>0</Sub></Note>

      <Note x={598} y={91}>LW<Sub>1</Sub></Note>
      <Note x={667} y={91}>LW<Sub>2</Sub></Note>
      <Note x={598} y={113}>LW<Sub>3</Sub></Note>
      <Note x={667} y={113}>LW<Sub>4</Sub></Note>
      <Note x={597} y={137}>2DEG</Note>
      <Note x={680} y={168}><i>B</i><Sub><i>y</i></Sub> = 0</Note>
      <Note x={672} y={286}>LW<Sub>2</Sub>-2D</Note>
      <Note x={672} y={401}>LW<Sub>3</Sub>-2D</Note>
      <Note x={672} y={516}>LW<Sub>4</Sub>-2D</Note>
      <Note x={570} y={680}>Momentum <i>k</i><Sub><i>x</i></Sub> (a.u.)</Note>

      <Note x={997} y={123} rotate={-90}><i>g</i><Sub>T</Sub> (<i>e</i><Sup>2</Sup>/<i>h</i>)</Note>
      <Note x={990} y={278}>UW<Sub>1</Sub> -LW<Sub>1</Sub></Note>
      <Note x={1124} y={348} rotate={-90}><i>B</i><Sub><i>y</i></Sub> (T)</Note>
      <Note x={913} y={682} center><i>B</i><Sub><i>z</i></Sub> (T)</Note>

      <Note x={23} y={543} rotate={-90}>Energy (meV)</Note>
      <Note x={306} y={692} center size={19}>Momentum (<i>Y</i>/<i>l</i><Sub><i>B</i></Sub> = <i>k</i><Sub><i>x</i></Sub> <i>l</i><Sub><i>B</i></Sub>)</Note>
      <Note x={106} y={462}><i>E</i><Sub>F</Sub></Note>
      <Note x={366} y={456}><i>B</i><Sub><i>z</i></Sub> = 0.7T, <i>B</i><Sub><i>y</i></Sub> = 0</Note>
      <Note x={488} y={478}>LL<Sub>4</Sub></Note>
      <Note x={488} y={541}>LL<Sub>0</Sub></Note>
      <Note x={123} y={535}>LW<Sub>1</Sub></Note>
      <Note x={106} y={606} color={ARROW_GRAY}><i>B</i><Sub><i>y</i></Sub> = –3T</Note>
      <Note x={274} y={607} color={ARROW_GRAY}><i>B</i><Sub><i>y</i></Sub> = +3T</Note>
      <Note x={394} y={568}>LW<Sub>1,..,4</Sub></Note>
      <Note x={393} y={589}>LL<Sub>0,...,4</Sub></Note>
      <Note x={406} y={613}>Resonances</Note>
      <Note x={391} y={633}>2DEG at <i>B</i><Sub><i>z</i></Sub> = 0</Note>
      <div style={{ position: 'absolute', left: 377.5, top: 610.5, width: 5, height: 5, background: '#000' }} />
      <div style={{ position: 'absolute', left: 389, top: 607, width: 10, height: 10, border: '1.3px solid #000', borderRadius: '50%' }} />
      <div style={{ position: 'absolute', left: 376, top: 628, width: 6, height: 6, background: '#c9d5f6', border: '2px solid #4f7cf0' }} />
    </div>
  );
}
